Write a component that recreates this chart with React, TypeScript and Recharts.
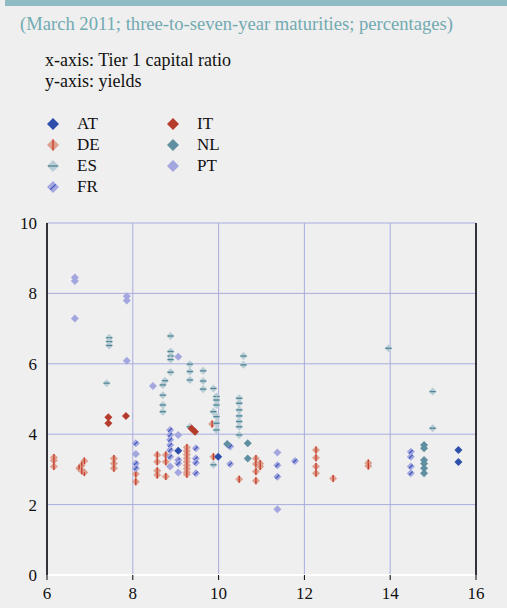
import React from 'react';
import { ScatterChart, Scatter, XAxis, YAxis, CartesianGrid } from 'recharts';

const xTicks = [6, 8, 10, 12, 14, 16];
const yTicks = [0, 2, 4, 6, 8, 10];

const AT: [number, number][] = [[9.06, 3.53], [9.99, 3.36], [15.59, 3.55], [15.59, 3.21]];
const IT: [number, number][] = [[7.43, 4.48], [7.43, 4.31], [7.84, 4.52], [9.37, 4.16], [9.45, 4.07]];
const NL: [number, number][] = [[10.2, 3.72], [10.68, 3.74], [10.68, 3.31], [14.79, 3.69], [14.79, 3.6], [14.79, 3.27], [14.79, 3.17], [14.79, 3.03], [14.79, 2.89]];
const PT: [number, number][] = [[6.65, 8.45], [6.65, 8.35], [6.65, 7.29], [7.86, 7.92], [7.86, 7.8], [7.86, 6.09], [9.06, 6.2], [8.47, 5.37], [11.37, 1.87], [8.07, 3.44], [9.06, 3.98], [9.06, 2.91], [11.37, 3.48], [8.87, 3.08]];
const ES: [number, number][] = [[7.39, 5.45], [7.45, 6.74], [7.45, 6.63], [7.45, 6.52], [8.88, 6.79], [8.88, 6.35], [8.88, 6.22], [8.88, 6.12], [8.88, 5.76], [9.33, 5.99], [9.33, 5.78], [9.33, 5.54], [9.64, 5.8], [9.64, 5.51], [9.64, 5.28], [8.75, 5.52], [8.7, 5.4], [8.7, 5.11], [8.7, 4.83], [8.7, 4.64], [9.88, 5.3], [9.95, 5.07], [9.95, 4.97], [9.95, 4.83], [9.88, 4.64], [9.95, 4.5], [9.95, 4.31], [9.95, 4.12], [10.48, 5.02], [10.48, 4.88], [10.48, 4.69], [10.48, 4.52], [10.48, 4.36], [10.48, 4.21], [10.48, 3.98], [10.58, 6.22], [10.58, 5.97], [13.96, 6.44], [14.99, 5.21], [14.99, 4.17], [9.88, 3.13], [9.33, 4.21]];
const DE: [number, number][] = [[6.16, 3.34], [6.16, 3.25], [6.16, 3.08], [6.87, 3.24], [6.81, 3.12], [6.75, 3.03], [6.87, 2.91], [6.81, 2.96], [7.56, 3.31], [7.56, 3.17], [7.56, 3.03], [8.07, 2.87], [8.07, 2.65], [8.57, 3.41], [8.57, 3.22], [8.57, 2.96], [8.57, 2.84], [8.77, 3.41], [8.77, 3.22], [8.77, 2.8], [9.26, 3.62], [9.26, 3.52], [9.26, 3.42], [9.26, 3.32], [9.26, 3.22], [9.26, 3.12], [9.26, 3.02], [9.26, 2.92], [9.26, 2.86], [9.85, 4.29], [9.88, 3.36], [10.48, 2.72], [10.87, 3.31], [10.87, 3.15], [10.87, 2.94], [10.87, 2.68], [10.97, 3.17], [10.97, 3.08], [12.27, 3.55], [12.27, 3.33], [12.27, 3.08], [12.27, 2.89], [12.67, 2.74], [13.49, 3.18], [13.49, 3.1]];
const FR: [number, number][] = [[8.07, 3.74], [8.07, 3.17], [8.07, 3.03], [8.87, 4.12], [8.87, 3.98], [8.87, 3.84], [8.87, 3.69], [8.87, 3.55], [8.87, 3.36], [9.06, 3.27], [9.06, 3.17], [9.47, 3.6], [9.47, 3.31], [9.47, 3.19], [9.47, 2.89], [10.27, 3.65], [10.27, 3.15], [11.37, 3.12], [11.37, 2.79], [11.78, 3.24], [14.48, 3.5], [14.48, 3.36], [14.48, 3.08], [14.48, 2.89]];

type Kind = 'AT' | 'DE' | 'ES' | 'FR' | 'IT' | 'NL' | 'PT';
const FILL: Record<Kind, string> = {
  AT: '#2d4fab', DE: '#dea08e', ES: '#b9cdd5', FR: '#a3a6df', IT: '#b53b2d', NL: '#5f8fa0', PT: '#a3a6df',
};
const STRIPE: Partial<Record<Kind, string>> = { DE: '#c63a2c', ES: '#4f8595', FR: '#3b55b5' };

const Diamond = ({ cx, cy, kind, r }: { cx: number; cy: number; kind: Kind; r: number }) => {
  if (cx == null || cy == null) return null;
  const s = STRIPE[kind];
  return (
    <g>
      <path d={`M${cx},${cy - r}L${cx + r},${cy}L${cx},${cy + r}L${cx - r},${cy}Z`} fill={FILL[kind]} />
      {s && kind === 'DE' && <line x1={cx} y1={cy - r + 0.5} x2={cx} y2={cy + r - 0.5} stroke={s} strokeWidth={1.3} />}
      {s && kind === 'ES' && <line x1={cx - r + 1} y1={cy} x2={cx + r - 1} y2={cy} stroke={s} strokeWidth={1.3} />}
      {s && kind === 'FR' && <line x1={cx - r * 0.45} y1={cy + r * 0.45} x2={cx + r * 0.45} y2={cy - r * 0.45} stroke={s} strokeWidth={1.2} />}
    </g>
  );
};

const toPts = (a: [number, number][]) => a.map(([x, y]) => ({ x, y }));

const series: { name: Kind; data: [number, number][] }[] = [
  { name: 'DE', data: DE },
  { name: 'ES', data: ES },
  { name: 'PT', data: PT },
  { name: 'FR', data: FR },
  { name: 'NL', data: NL },
  { name: 'IT', data: IT },
  { name: 'AT', data: AT },
];

const legendCol1: Kind[] = ['AT', 'DE', 'ES', 'FR'];
const legendCol2: Kind[] = ['IT', 'NL', 'PT'];

const font = "'Liberation Serif'";

const LegendItem = ({ k, x, y }: { k: Kind; x: number; y: number }) => (
  <div style={{ position: 'absolute', left: x, top: y, height: 20, display: 'flex', alignItems: 'center' }}>
    <svg width={14} height={14} style={{ display: 'block' }}>
      <Diamond cx={7} cy={7} r={6} kind={k} />
    </svg>
    <span style={{ marginLeft: 17, fontSize: 17, color: '#111', fontFamily: font }}>{k}</span>
  </div>
);

export default function App() {
  return (
    <div style={{ position: 'absolute', left: 0, top: 0, width: 507, height: 608, background: '#efefef', fontFamily: font, overflow: 'hidden' }}>
      <div style={{ position: 'absolute', left: 5, top: 0, width: 502, height: 6, background: '#8fbcc4' }} />
      <div style={{ position: 'absolute', left: 20, top: 13, fontSize: 18.6, lineHeight: '22px', color: '#72aab2', whiteSpace: 'nowrap', fontFamily: font }}>
        (March 2011; three-to-seven-year maturities; percentages)
      </div>
      <div style={{ position: 'absolute', left: 45, top: 50, fontSize: 18, color: '#111', lineHeight: '21px', fontFamily: font }}>
        <div>x-axis: Tier 1 capital ratio</div>
        <div>y-axis: yields</div>
      </div>
      {legendCol1.map((k, i) => <LegendItem key={k} k={k} x={46} y={114 + i * 21} />)}
      {legendCol2.map((k, i) => <LegendItem key={k} k={k} x={166} y={114 + i * 21} />)}
      <div style={{ position: 'absolute', left: 0, top: 0 }}>
        <ScatterChart width={507} height={608} margin={{ top: 223, right: 0, bottom: 0, left: 0 }}>
          <CartesianGrid stroke="#a9addf" strokeWidth={1} />
          <XAxis type="number" dataKey="x" domain={[6, 16]} ticks={xTicks} height={33}
            axisLine={{ stroke: '#ffffff', strokeWidth: 2 }} tickLine={{ stroke: '#000' }} tickSize={5}
            tick={{ fill: '#111', fontSize: 17, fontFamily: 'Liberation Serif', dy: 5 }} interval={0} allowDataOverflow />
          <YAxis type="number" dataKey="y" yAxisId={0} domain={[0, 10]} ticks={yTicks} width={47}
            axisLine={{ stroke: '#000', strokeWidth: 1.5 }} tickLine={false} tickSize={0} tickMargin={10}
            tick={{ fill: '#111', fontSize: 17, fontFamily: 'Liberation Serif' }} interval={0} />
          <YAxis type="number" yAxisId="r" orientation="right" domain={[0, 10]} ticks={yTicks} width={31}
            axisLine={{ stroke: '#000', strokeWidth: 1.5 }} tickLine={false} tickSize={0} tickMargin={9}
            tick={{ fill: '#111', fontSize: 17, fontFamily: 'Liberation Serif' }} interval={0} />
          {series.map((s) => (
            <Scatter key={s.name} name={s.name} data={toPts(s.data)} yAxisId={0} isAnimationActive={false}
              shape={(p: any) => <Diamond cx={p.cx} cy={p.cy} r={4} kind={s.name} />} />
          ))}
        </ScatterChart>
      </div>
    </div>
  );
}
